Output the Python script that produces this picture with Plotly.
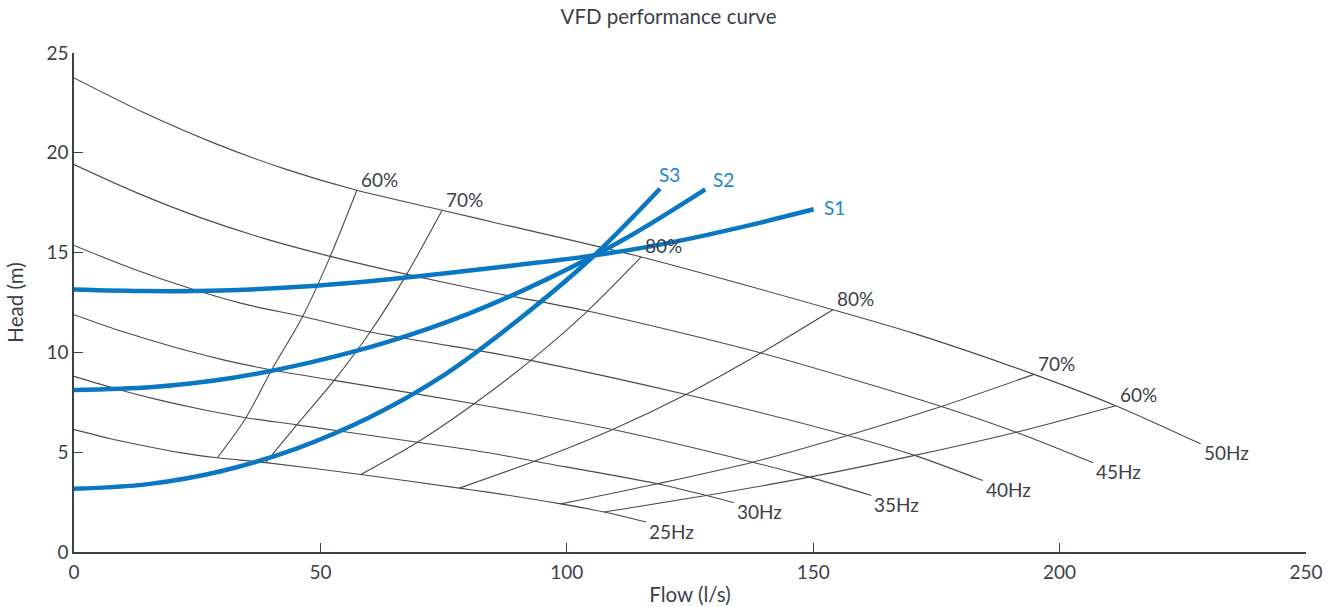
import plotly.graph_objects as go

# ---- pump curves at different frequencies (flow l/s, head m) ----
freq_labels = ["25Hz", "30Hz", "35Hz", "40Hz", "45Hz", "50Hz"]

flow_25 = [0, 7.2, 14.4, 21.5, 29.1, 38.9, 58.2, 78.2, 85.3, 98.8, 107.6, 116.1]
head_25 = [6.13, 5.69, 5.31, 4.98, 4.72, 4.48, 3.88, 3.20, 2.95, 2.41, 2.00, 1.50]

flow_30 = [0, 8.6, 17.2, 25.8, 34.9, 45.2, 69.7, 85.3, 93.4, 118.4, 128.3, 133.9]
head_30 = [8.80, 8.17, 7.62, 7.15, 6.73, 6.37, 5.50, 4.92, 4.55, 3.42, 2.83, 2.47]

flow_35 = [0, 10.0, 20.1, 30.1, 40.1, 52.8, 81.2, 109.3, 137.7, 149.2, 161.8]
head_35 = [11.89, 11.03, 10.28, 9.64, 9.12, 8.60, 7.43, 6.14, 4.50, 3.75, 2.83]

flow_40 = [0, 11.5, 23.0, 34.4, 46.4, 60.1, 85.3, 92.7, 124.2, 157.0, 170.6, 184.4]
head_40 = [15.36, 14.23, 13.25, 12.43, 11.80, 11.02, 9.95, 9.60, 7.89, 5.84, 4.84, 3.58]

flow_45 = [0, 12.9, 25.8, 38.7, 52.0, 67.5, 85.3, 104.2, 139.4, 176.0, 191.2, 206.8]
head_45 = [19.41, 17.98, 16.74, 15.70, 14.81, 13.91, 12.98, 12.07, 9.97, 7.29, 6.00, 4.47]

flow_50 = [0, 14.35, 28.7, 43.05, 57.4, 74.7, 85.3, 115.1, 154.0, 170.6, 194.8, 211.4, 228.6]
head_50 = [23.75, 21.99, 20.46, 19.17, 18.12, 17.12, 16.51, 14.78, 12.14, 10.94, 8.90, 7.33, 5.42]

# ---- iso-efficiency lines (25Hz -> 50Hz) ----
eff_labels = ["60%", "70%", "80%", "80%", "70%", "60%"]
eff60a_q = [29.1, 34.9, 40.1, 46.4, 52.0, 57.4]
eff60a_h = [4.72, 6.73, 9.12, 11.80, 14.81, 18.12]
eff70a_q = [38.9, 45.2, 52.8, 60.1, 67.5, 74.7]
eff70a_h = [4.48, 6.37, 8.60, 11.02, 13.91, 17.12]
eff80a_q = [58.2, 69.7, 81.2, 92.7, 104.2, 115.1]
eff80a_h = [3.88, 5.50, 7.43, 9.60, 12.07, 14.78]
eff80b_q = [78.2, 93.4, 109.3, 124.2, 139.4, 154.0]
eff80b_h = [3.20, 4.55, 6.14, 7.89, 9.97, 12.14]
eff70b_q = [98.8, 118.4, 137.7, 157.0, 176.0, 194.8]
eff70b_h = [2.41, 3.42, 4.50, 5.84, 7.29, 8.90]
eff60b_q = [107.6, 128.3, 149.2, 170.6, 191.2, 211.4]
eff60b_h = [2.00, 2.83, 3.75, 4.84, 6.00, 7.33]

# ---- system curves ----
sys_labels = ["S1", "S2", "S3"]
s1_q = [0, 15, 30, 45, 60, 75, 90, 105, 120, 135, 150.1]
s1_h = [13.15, 13.07, 13.10, 13.28, 13.57, 13.95, 14.38, 14.84, 15.45, 16.25, 17.17]
s2_q = [0, 16, 32, 48, 64, 80, 96, 112, 128.1]
s2_h = [8.12, 8.27, 8.72, 9.50, 10.55, 11.93, 13.67, 15.72, 18.17]
s3_q = [0, 15, 30, 45, 60, 75, 90, 105, 118.9]
s3_h = [3.17, 3.40, 4.06, 5.17, 6.75, 8.85, 11.60, 14.73, 18.20]

x_ticks = [0, 50, 100, 150, 200, 250]
y_ticks = [0, 5, 10, 15, 20, 25]

# ---- styles ----
GRAY = "#4a4a4a"
TEXT = "#3c3f4a"
BLUE = "#0a77c2"
BLUE_TXT = "#1c86cf"
FONT = "Lato"
LBL = 19

fig = go.Figure()

pump_curves = [(flow_25, head_25), (flow_30, head_30), (flow_35, head_35),
               (flow_40, head_40), (flow_45, head_45), (flow_50, head_50)]
eff_curves = [(eff60a_q, eff60a_h), (eff70a_q, eff70a_h), (eff80a_q, eff80a_h),
              (eff80b_q, eff80b_h), (eff70b_q, eff70b_h), (eff60b_q, eff60b_h)]
sys_curves = [(s1_q, s1_h), (s2_q, s2_h), (s3_q, s3_h)]

for (q, h), name in zip(pump_curves, freq_labels):
    fig.add_trace(go.Scatter(x=q, y=h, mode="lines", name=name,
                             line=dict(color=GRAY, width=1.1, shape="spline", smoothing=0.8),
                             hoverinfo="skip"))
    fig.add_annotation(x=q[-1], y=h[-1], text=name, showarrow=False,
                       xanchor="left", yanchor="middle", xshift=1, yshift=-9,
                       font=dict(family=FONT, size=LBL, color=TEXT))

for (q, h), name in zip(eff_curves, eff_labels):
    fig.add_trace(go.Scatter(x=q, y=h, mode="lines", name=name,
                             line=dict(color=GRAY, width=1.1, shape="spline", smoothing=0.8),
                             hoverinfo="skip"))
    fig.add_annotation(x=q[-1], y=h[-1], text=name, showarrow=False,
                       xanchor="left", yanchor="middle", xshift=2, yshift=11,
                       font=dict(family=FONT, size=LBL, color=TEXT))

sys_offsets = [(8, 2), (6, 10), (-3, 14)]
for (q, h), name, (dx, dy) in zip(sys_curves, sys_labels, sys_offsets):
    fig.add_trace(go.Scatter(x=q, y=h, mode="lines", name=name,
                             line=dict(color=BLUE, width=4.5, shape="spline", smoothing=1.0)))
    fig.add_annotation(x=q[-1], y=h[-1], text=name, showarrow=False,
                       xanchor="left", yanchor="middle", xshift=dx, yshift=dy,
                       font=dict(family=FONT, size=LBL, color=BLUE_TXT))

axis_common = dict(showline=True, linecolor=TEXT, linewidth=1.5, ticks="inside",
                   ticklen=9, tickcolor=TEXT, tickwidth=1, showgrid=False, zeroline=False,
                   automargin=False,
                   tickfont=dict(family=FONT, size=19, color=TEXT))

fig.update_xaxes(range=[0, 250], tickvals=x_ticks, ticktext=[str(v) for v in x_ticks],
                 ticklabelstandoff=2,
                 title=dict(text="Flow (l/s)", font=dict(family=FONT, size=20.5, color=TEXT), standoff=6),
                 **axis_common)
fig.update_yaxes(range=[0, 25], tickvals=y_ticks, ticktext=[str(v) for v in y_ticks],
                 title=dict(text="Head (m)", font=dict(family=FONT, size=20.5, color=TEXT), standoff=17),
                 **axis_common)

fig.update_layout(
    width=1337, height=607,
    margin=dict(l=74, r=31, t=53, b=55),
    plot_bgcolor="white", paper_bgcolor="white",
    showlegend=False,
    font=dict(family=FONT, color=TEXT),
    title=dict(text="VFD performance curve", x=0.5, xanchor="center",
               y=1 - 17 / 607, yanchor="middle",
               font=dict(family=FONT, size=20.5, color=TEXT)),
)

fig.write_html("out.html", config={"displayModeBar": False},
               post_script="document.body.style.margin='0';document.body.style.overflow='hidden';")
